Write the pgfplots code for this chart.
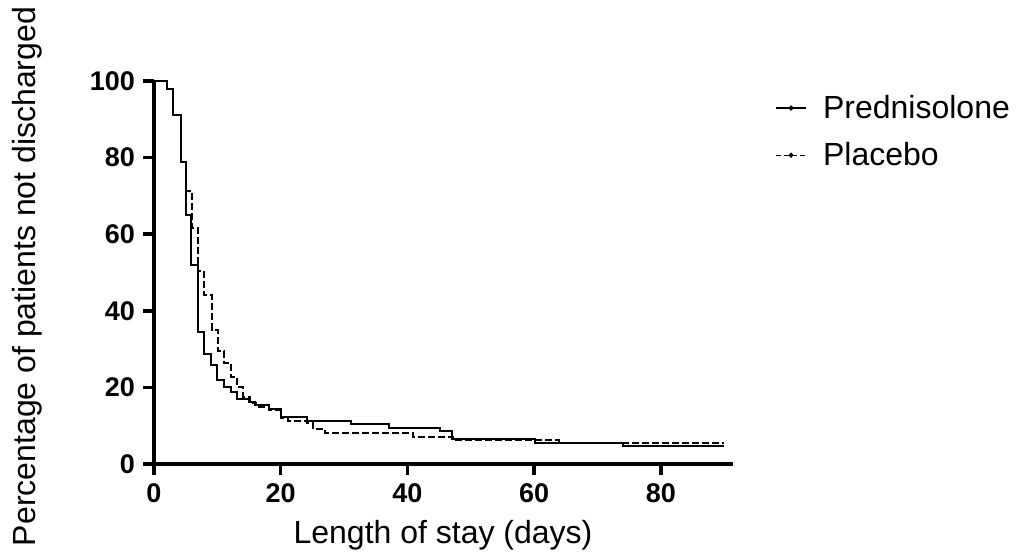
\documentclass[border=0pt]{standalone}
\usepackage{fontspec}
\setmainfont{Liberation Sans}
\usepackage{pgfplots}
\pgfplotsset{compat=1.18}

\begin{document}
\begin{tikzpicture}
\useasboundingbox (-77pt,-46.5pt) rectangle (434pt,232pt);
\begin{axis}[
  at={(0,0)}, anchor=south west,
  scale only axis, width=289.5pt, height=191.5pt,
  xmin=0, xmax=91.4, ymin=0, ymax=100,
  xtick={0,20,40,60,80}, ytick={0,20,40,60,80,100},
  axis lines=left, axis line style={-, line width=1.8pt},
  tick align=outside, major tick length=5.5pt,
  tick style={line width=1.8pt, black},
  /pgf/number format/assume math mode=true,
  ticklabel style={font=\bfseries\fontsize{13.5}{15}\selectfont},
  xticklabel style={yshift=-1pt},
  yticklabel style={xshift=-0.5pt},
  clip=false,
  legend style={at={(1.0725,0.975)}, anchor=north west, draw=none, fill=none,
    font=\fontsize{16}{19}\selectfont, inner sep=0pt, row sep=6.5pt},
  legend cell align=left,
]
% Prednisolone
\addplot[const plot, black, line width=1pt,
  legend image code/.code={\draw[black, line width=0.7pt] (0pt,0pt)--(15pt,0pt);
    \fill[black] (7.5pt,0pt) circle (0.7pt); \path (21pt,0pt);}]
  coordinates {(0,100) (2.0,97.9) (3.05,91.1) (4.2,78.9) (5.0,65.0) (5.9,52.0)
    (7.0,34.5) (7.9,28.7) (9.0,25.8) (10.0,21.9) (11.0,20.2) (12.1,18.9)
    (13.1,17.0) (15.0,16.3) (15.9,15.4) (18.2,14.4) (20.1,12.4) (24.1,11.3)
    (31.1,10.4) (37.1,9.5) (45.1,8.6) (47.1,6.4) (60.1,5.6) (74.0,4.7) (90,4.7)};
\addlegendentry{Prednisolone}
% Placebo
\addplot[const plot, black, line width=1pt, dash pattern=on 3.5pt off 1.5pt,
  legend image code/.code={\draw[black, line width=0.7pt, dash pattern=on 2.5pt off 1.5pt] (0pt,0pt)--(15pt,0pt);
    \fill[black] (7.5pt,0pt) circle (0.7pt); \path (21pt,0pt);}]
  coordinates {(0,100) (2.0,97.9) (3.05,91.1) (4.2,78.9) (5.0,71.3) (6.0,61.6)
    (7.0,50.5) (7.9,44.0) (9.1,34.9) (10.1,29.4) (11.1,26.5) (12.1,22.8)
    (13.1,20.0) (14.0,17.6) (15.1,15.8) (16.1,14.8) (18.1,14.1) (20.1,11.9)
    (21.2,11.3) (24.1,10.8) (25.1,9.1) (27.0,8.2) (40.9,7.1) (47.2,6.3)
    (64.0,5.6) (74.0,5.4) (90,5.4)};
\addlegendentry{Placebo}
\end{axis}
\node[anchor=base, font=\fontsize{16}{19}\selectfont] at (144.5pt,-39.5pt) {Length of stay (days)};
\node[anchor=base, rotate=90, font=\fontsize{16}{19}\selectfont] at (-59pt,93.75pt) {Percentage of patients not discharged};
\end{tikzpicture}
\end{document}
